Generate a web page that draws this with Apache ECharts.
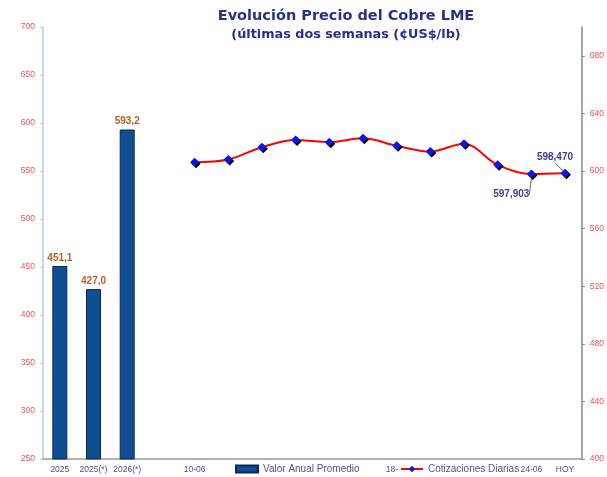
<!DOCTYPE html>
<html>
<head>
<meta charset="utf-8">
<script src="https://cdn.jsdelivr.net/npm/echarts@6/dist/echarts.min.js"></script>
<style>
    html, body { margin: 0; padding: 0; background: #fff; }
    #chart { width: 607px; height: 477px; }
</style>
</head>
<body>
<div id="chart"></div>
<script>
// categorias del eje x: promedios anuales, un hueco y las cotizaciones diarias
var categorias = ["2025", "2025(*)", "2026(*)", "",
    "10-06", "11-06", "12-06", "15-06", "16-06", "17-06", "18-06",
    "19-06", "22-06", "23-06", "24-06", "HOY"];

// valor anual promedio (eje izquierdo)
var anual = [451.1, 427.0, 593.2];

// cotizaciones diarias (eje derecho)
var diarias = [606.1, 608.0, 616.5, 621.6, 620.0, 622.7, 617.5, 613.5, 618.9, 604.3, 597.903, 598.470];

var ticksIzq = [250, 700, 50];
var ticksDer = [400, 700, 40];

var datosBarra = [];
var datosLinea = [];
for (var i = 0; i < categorias.length; i++) {
    datosBarra.push(i < anual.length ? anual[i] : null);
    var j = i - (categorias.length - diarias.length);
    datosLinea.push(j >= 0 ? diarias[j] : null);
}

// solo las dos ultimas cotizaciones llevan etiqueta
var ultimo = categorias.length - 1;
var datosLineaItems = datosLinea.map(function (v, i) {
    if (i >= ultimo - 1) {
        return { value: v, label: { show: true, position: i == ultimo ? 'top' : 'bottom' } };
    }
    return v;
});

var coma = function (v, d) { return v.toFixed(d).replace('.', ','); };

var chart = echarts.init(document.getElementById('chart'));
chart.setOption({
    animation: false,
    textStyle: { fontFamily: 'Liberation Sans, Arial, sans-serif' },
    title: {
        text: 'Evolución Precio del Cobre LME',
        subtext: '(últimas dos semanas (¢US$/lb)',
        left: 341,
        top: 4,
        textAlign: 'center',
        itemGap: 4,
        textStyle: { fontFamily: 'DejaVu Sans', fontWeight: 'bold', fontSize: 14.5, color: '#27308f' },
        subtextStyle: { fontFamily: 'DejaVu Sans', fontWeight: 'bold', fontSize: 12.8, color: '#27308f' }
    },
    grid: { left: 43, right: 21, top: 27, bottom: 18 },
    legend: [{
        data: ['Valor Anual Promedio'],
        left: 217, bottom: 2,
        padding: [1, 16, 1, 18],
        backgroundColor: '#fff',
        icon: 'rect',
        itemWidth: 22, itemHeight: 7,
        textStyle: { color: '#4f4fa6', fontSize: 10 }
    }, {
        data: ['Cotizaciones Diarias'],
        left: 398, bottom: 2,
        padding: [1, 0, 1, 2],
        backgroundColor: '#fff',
        itemWidth: 22, itemHeight: 8,
        textStyle: { color: '#4f4fa6', fontSize: 10 }
    }],
    xAxis: {
        type: 'category',
        data: categorias,
        axisLine: { lineStyle: { color: '#9a9a9a', width: 1.5 } },
        axisTick: { length: 3, lineStyle: { color: '#777' } },
        axisLabel: { interval: 0, color: '#4f4fa6', fontSize: 8.5, margin: 6 }
    },
    yAxis: [{
        type: 'value',
        min: ticksIzq[0], max: ticksIzq[1], interval: ticksIzq[2],
        splitLine: { show: false },
        axisLine: { show: true, lineStyle: { color: '#a9cff2', width: 1.5 } },
        axisTick: { show: true, length: 3, lineStyle: { color: '#a9cff2' } },
        axisLabel: { color: '#ff4d4d', fontSize: 8.5, margin: 8 }
    }, {
        type: 'value',
        position: 'right',
        min: ticksDer[0], max: ticksDer[1], interval: ticksDer[2],
        splitLine: { show: false },
        axisLine: { show: true, lineStyle: { color: '#8a8a8a', width: 1.5 } },
        axisTick: { show: true, length: 3, lineStyle: { color: '#8a8a8a' } },
        axisLabel: { color: '#ff4d4d', fontSize: 8.5, margin: 8, showMaxLabel: false }
    }],
    series: [{
        name: 'Valor Anual Promedio',
        type: 'bar',
        yAxisIndex: 0,
        barWidth: 15,
        data: datosBarra,
        itemStyle: { color: '#0f4f91', borderColor: '#0a2a55', borderWidth: 1 },
        label: {
            show: true, position: 'top', distance: 3,
            color: '#b5622a', fontWeight: 'bold', fontSize: 10,
            formatter: function (p) { return coma(p.value, 1); }
        }
    }, {
        name: 'Cotizaciones Diarias',
        type: 'line',
        yAxisIndex: 1,
        smooth: 0.35,
        data: datosLineaItems,
        symbol: 'diamond',
        symbolSize: 9,
        lineStyle: { color: '#ff0000', width: 2 },
        itemStyle: {
            color: '#0a14f0',
            shadowColor: '#000', shadowOffsetX: 1.5, shadowOffsetY: 1.5, shadowBlur: 0
        },
        label: {
            show: false,
            color: '#3d3d9c', fontWeight: 'bold', fontSize: 10,
            formatter: function (p) { return coma(p.value, 3); }
        },
        labelLine: { show: true, lineStyle: { color: '#666', width: 1 } },
        labelLayout: function (p) {
            if (p.dataIndex == ultimo) return { dx: -10, dy: -1 };
            return { dx: -20, dy: 6 };
        }
    }]
});
</script>
</body>
</html>
